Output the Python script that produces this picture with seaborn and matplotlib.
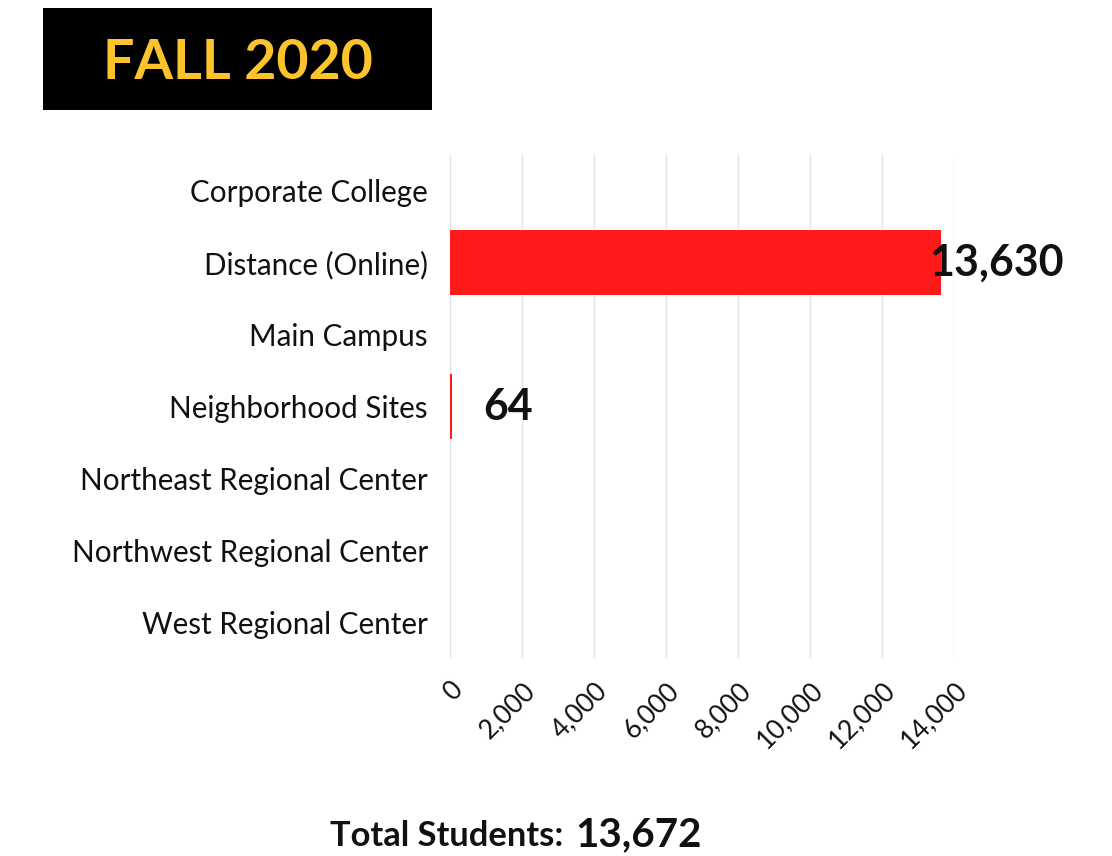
import matplotlib
matplotlib.use("Agg")
import matplotlib.pyplot as plt
from matplotlib.patches import Rectangle
import seaborn as sns
import pandas as pd

# data
campuses = [
    "Corporate College",
    "Distance (Online)",
    "Main Campus",
    "Neighborhood Sites",
    "Northeast Regional Center",
    "Northwest Regional Center",
    "West Regional Center",
]
students = [0, 13630, 0, 64, 0, 0, 0]
x_ticks = [0, 2000, 4000, 6000, 8000, 10000, 12000, 14000]
term = "FALL 2020"
total_students = "13,672"

df = pd.DataFrame({"campus": campuses, "students": students})

sns.set_style("white")
plt.rcParams["font.family"] = ["Lato", "DejaVu Sans"]

fig = plt.figure(figsize=(11.12, 8.56), dpi=100)
ax = fig.add_axes([0.4047, 0.2313, 0.4532, 0.5876])

sns.barplot(data=df, x="students", y="campus", orient="h", color="#ff1a1a",
            saturation=1, width=0.9, linewidth=0, ax=ax)

ax.set_xlim(0, 14000)
ax.set_xticks(x_ticks)
ax.set_xticklabels([f"{t:,}" for t in x_ticks], rotation=45, ha="right",
                   rotation_mode="anchor", fontsize=19, color="#111111")
ax.tick_params(axis="x", length=0, pad=14)
ax.tick_params(axis="y", length=0, pad=16, labelsize=21.3, labelcolor="#111111")
ax.set_xlabel("")
ax.set_ylabel("")
ax.grid(axis="x", color="#e3e3e3", linewidth=1)
ax.set_axisbelow(True)
for side in ["top", "right", "bottom", "left"]:
    ax.spines[side].set_visible(False)

# value labels for the non-empty bars
for i, v in enumerate(students):
    if v > 0:
        ax.annotate(f"{v:,}", xy=(v, i), xytext=(40, 0), textcoords="offset points",
                    ha="center", va="center", fontsize=31, fontweight="bold",
                    color="#111111")

# title block
fig.patches.append(Rectangle((0.0387, 0.8715), 0.35, 0.1192, transform=fig.transFigure,
                             facecolor="black", edgecolor="none"))
fig.text(0.2136, 0.926, term, ha="center", va="center", fontsize=40,
         fontweight="bold", color="#fcc32c")

# footer
fig.text(0.5063, 0.012, "Total Students:", ha="right", va="baseline",
         fontsize=24.8, fontweight="bold", color="#111111")
fig.text(0.517, 0.012, total_students, ha="left", va="baseline",
         fontsize=29, fontweight="bold", color="#111111")

fig.savefig("out.png", dpi=100)
